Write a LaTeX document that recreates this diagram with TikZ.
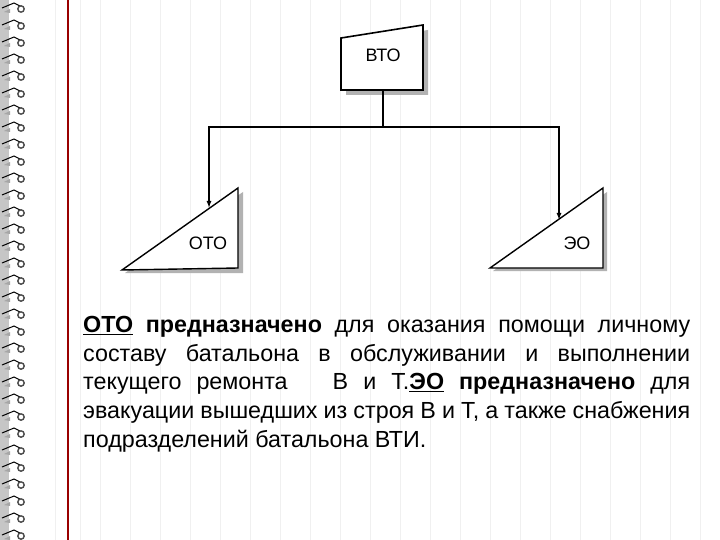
\documentclass[tikz,border=0pt]{standalone}
\usepackage{fontspec}
\usetikzlibrary{arrows.meta}
\setmainfont{Liberation Sans}
\begin{document}
\begin{tikzpicture}[x=1pt,y=-1pt,
  thick line/.style={line width=1.6pt,black},
  shadowc/.style={fill=gray!60,draw=none},
  lbl/.style={font=\fontsize{18}{18}\selectfont}]
\useasboundingbox (0,0) rectangle (720,540);
\fill[white] (0,0) rectangle (720,540);
% paper lines
\foreach \x in {55,80,100,130,160,190,220,250,280,310,340,370,400,430,460,490,520,550,580,610,640,670,700}
  \draw[gray!12,line width=0.8pt] (\x,0) -- (\x,540);
\draw[red!60!black,line width=1.6pt] (68,0) -- (68,540);
% spiral binding
\fill[gray!45] (0,0) rectangle (9,540);
\foreach \y in {0,17,...,530}{
  \draw[black,line width=1pt] (2,\y+8) -- (14,\y+3) -- (20,\y+6);
  \draw[black!70,line width=1.4pt] (21,\y+9) circle (3.2);
  \fill[gray!70] (4,\y+12) -- (10,\y+9) -- (10,\y+13) -- cycle;
}
% BTO box
\fill[shadowc] (346,43) -- (428,30) -- (428,95) -- (346,95) -- cycle;
\draw[thick line,fill=white] (341,38) -- (423,25) -- (423,90) -- (341,90) -- cycle;
\node[lbl] (bto) at (383,55) {ВТО};
\coordinate (stem) at (383,90);
\coordinate (junc) at (383,127);
\coordinate (jl) at (209,127);
\coordinate (jr) at (559,127);
% triangles
\fill[shadowc] (125,273) -- (243,192) -- (243,273) -- cycle;
\draw[line width=1.4pt,fill=white] (122,270) -- (238,188) -- (238,268) -- cycle;
\fill[shadowc] (493,271) -- (607,192) -- (607,271) -- cycle;
\draw[line width=1.4pt,fill=white] (490,268) -- (603,188) -- (603,268) -- cycle;
\node[lbl] (oto) at (208,243) {ОТО};
\node[lbl] (eo) at (577,243) {ЭО};
\coordinate (tl) at (209,208);
\coordinate (tr) at (559,220);
\draw[line width=1.3pt] (stem) -- (junc);
\draw[line width=1.3pt,-{Latex[length=7pt,width=5pt]}] (junc) -- (jl) -- (tl);
\draw[line width=1.3pt,-{Latex[length=7pt,width=5pt]}] (junc) -- (jr) -- (tr);
% text
\node[anchor=north west,inner sep=0,text width=607pt,align=justify,
  font=\fontsize{23.3}{28.7}\selectfont] (txt) at (83,316)
{\underline{\textbf{ОТО}} \textbf{предназначено} для оказания помощи личному\linebreak
составу батальона в обслуживании и выполнении\linebreak
текущего ремонта~~~В и Т.\underline{\textbf{ЭО}} \textbf{предназначено} для\linebreak
эвакуации вышедших из строя В и Т, а также снабжения\linebreak
подразделений батальона ВТИ.\par};
\end{tikzpicture}
\end{document}
